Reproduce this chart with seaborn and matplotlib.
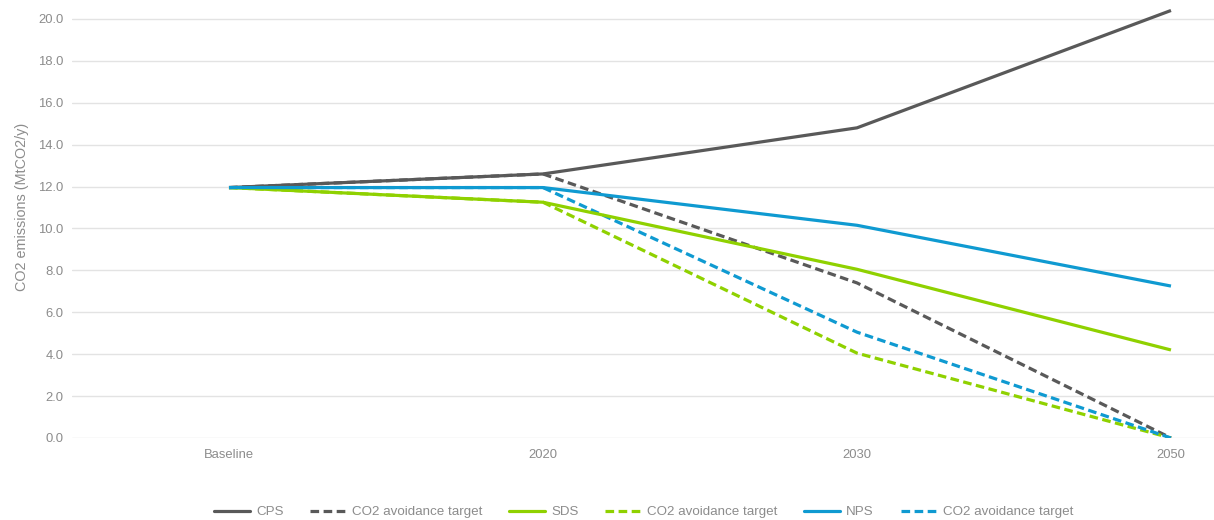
import matplotlib
matplotlib.use("Agg")
import matplotlib.pyplot as plt
from matplotlib.lines import Line2D
import seaborn as sns
import pandas as pd

# Scenario emissions (MtCO2/y)
periods = ["Baseline", "2020", "2030", "2050"]
cps = [11.95, 12.6, 14.8, 20.4]
cps_target = [11.95, 12.6, 7.4, 0.0]
sds = [11.95, 11.25, 8.05, 4.2]
sds_target = [11.95, 11.25, 4.05, 0.0]
nps = [11.95, 11.95, 10.15, 7.25]
nps_target = [11.95, 11.95, 5.05, 0.0]

yticks = [0, 2, 4, 6, 8, 10, 12, 14, 16, 18, 20]

GRAY = "#595959"
GREEN = "#8fd100"
BLUE = "#0f9ad1"
TEXT = "#8c8c8c"

series = [
    ("CPS", cps, GRAY, False),
    ("CO2 avoidance target", cps_target, GRAY, True),
    ("SDS", sds, GREEN, False),
    ("CO2 avoidance target", sds_target, GREEN, True),
    ("NPS", nps, BLUE, False),
    ("CO2 avoidance target", nps_target, BLUE, True),
]

sns.set_theme(style="white")
plt.rcParams["font.family"] = ["Liberation Sans", "DejaVu Sans"]

fig = plt.figure(figsize=(12.14, 5.2), dpi=100)
ax = fig.add_axes([72 / 1214, 82 / 520, 1 - 72 / 1214, 438 / 520])

DASH = (2.7, 1.4)
handles = []
for name, vals, color, dashed in series:
    df = pd.DataFrame({"period": periods, "value": vals})
    sns.lineplot(data=df, x="period", y="value", ax=ax, color=color,
                 linewidth=2.3, sort=False, legend=False,
                 zorder=3 if not dashed else 2)
    line = ax.get_lines()[-1]
    if dashed:
        line.set_dashes(DASH)
    line.set_solid_capstyle("butt")
    h = Line2D([], [], color=color, linewidth=2.3)
    if dashed:
        h.set_dashes(DASH)
    handles.append((h, name))

ax.set_xlim(-0.5, 3.137)
ax.set_ylim(0, 20.9)
ax.set_yticks(yticks)
ax.set_yticklabels([f"{v:.1f}" for v in yticks])
ax.yaxis.grid(True, color="#e3e3e3", linewidth=1)
ax.xaxis.grid(False)
for s in ax.spines.values():
    s.set_visible(False)
ax.tick_params(axis="both", length=0, labelsize=9.4, colors=TEXT, pad=6)
ax.tick_params(axis="x", pad=8)
ax.set_xlabel("")
ax.set_ylabel("CO2 emissions (MtCO2/y)", fontsize=10.4, color=TEXT)
ax.yaxis.set_label_coords(-0.0375, 0.527)

fig.legend([h for h, _ in handles], [n for _, n in handles],
           loc="center", bbox_to_anchor=(0.53, 0.015), ncol=6, frameon=False,
           fontsize=9.6, labelcolor=TEXT, handlelength=2.7, handletextpad=0.45,
           columnspacing=2.0)

fig.savefig("out.png", dpi=100, facecolor="white")
